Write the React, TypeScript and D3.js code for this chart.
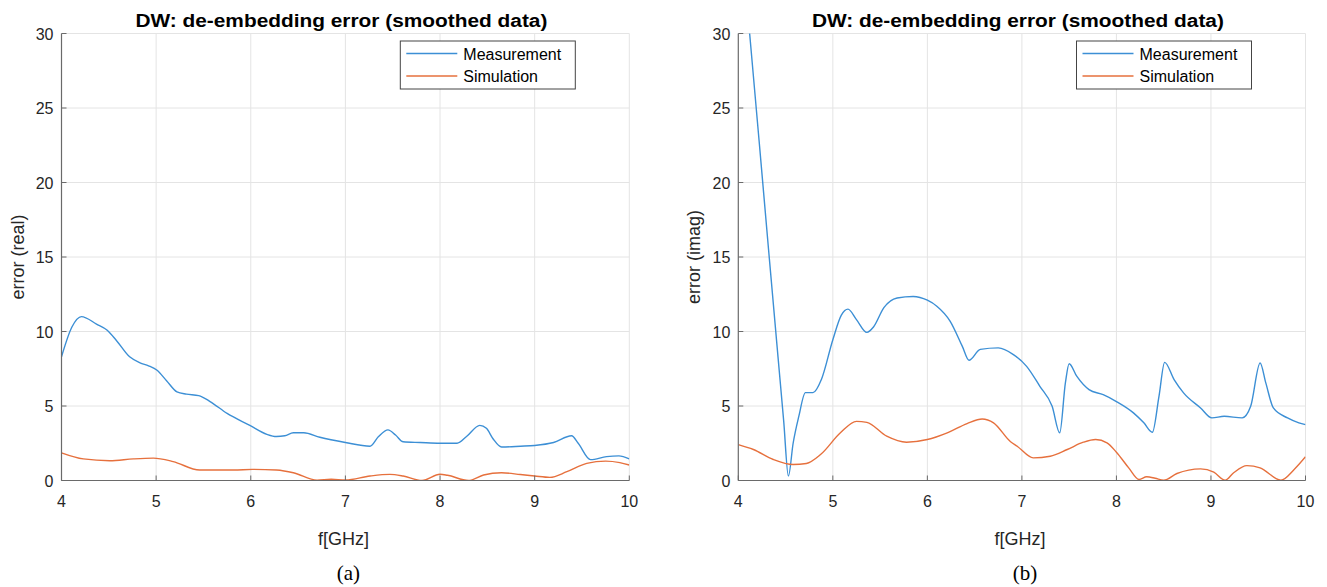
import React from "react";
import * as d3 from "d3";

// ---------- data ----------
const xTicks = [4, 5, 6, 7, 8, 9, 10];
const yTicks = [0, 5, 10, 15, 20, 25, 30];
const titleText = "DW: de-embedding error (smoothed data)";
const xLabel = "f[GHz]";
const yLabelA = "error (real)";
const yLabelB = "error (imag)";
const legendNames = ["Measurement", "Simulation"];
const captions = ["(a)", "(b)"];

// panel (a): real part
const measA: [number, number][] = [
  [4.0, 8.3], [4.11, 10.3], [4.21, 11.0], [4.37, 10.5], [4.48, 10.1], [4.58, 9.4],
  [4.72, 8.3], [4.83, 7.9], [4.92, 7.7], [5.01, 7.4], [5.11, 6.7], [5.22, 5.95],
  [5.32, 5.8], [5.45, 5.7], [5.57, 5.3], [5.75, 4.5], [5.99, 3.7], [6.17, 3.1],
  [6.27, 2.95], [6.36, 3.0], [6.45, 3.2], [6.56, 3.2], [6.73, 2.9], [7.0, 2.55],
  [7.26, 2.3], [7.35, 2.95], [7.45, 3.4], [7.53, 3.05], [7.61, 2.6], [7.79, 2.55],
  [8.0, 2.5], [8.18, 2.5], [8.28, 2.95], [8.42, 3.7], [8.49, 3.5], [8.56, 2.8],
  [8.65, 2.25], [8.85, 2.3], [9.0, 2.35], [9.2, 2.55], [9.39, 3.0], [9.46, 2.5],
  [9.59, 1.4], [9.76, 1.6], [9.89, 1.65], [10.0, 1.45],
];
const simA: [number, number][] = [
  [4.0, 1.86], [4.23, 1.45], [4.51, 1.33], [4.76, 1.45], [4.97, 1.5], [5.18, 1.27],
  [5.46, 0.7], [5.82, 0.7], [6.02, 0.75], [6.27, 0.7], [6.45, 0.52], [6.7, 0.02],
  [6.85, 0.08], [7.0, 0.03], [7.26, 0.3], [7.47, 0.41], [7.61, 0.3], [7.81, 0.0],
  [8.0, 0.42], [8.08, 0.35], [8.3, 0.0], [8.46, 0.37], [8.65, 0.52], [8.85, 0.4],
  [9.0, 0.3], [9.16, 0.21], [9.34, 0.59], [9.55, 1.15], [9.75, 1.3], [9.9, 1.2],
  [10.0, 1.04],
];

// panel (b): imaginary part
const measB: [number, number][] = [
  [4.0, 39], [4.12, 30], [4.22, 22.8], [4.32, 15.5], [4.42, 8.3], [4.48, 4.0],
  [4.53, 0.3], [4.58, 2.5], [4.64, 4.3], [4.71, 5.9], [4.79, 5.9],
  [4.88, 6.8], [5.0, 9.45], [5.09, 11.1], [5.16, 11.5], [5.25, 10.8], [5.36, 9.94],
  [5.43, 10.3], [5.54, 11.6], [5.68, 12.25], [5.85, 12.35], [6.0, 12.1], [6.1, 11.7],
  [6.24, 10.7], [6.37, 9.0], [6.44, 8.07], [6.56, 8.8], [6.75, 8.9], [6.91, 8.45],
  [7.05, 7.66], [7.19, 6.32], [7.32, 4.98], [7.4, 3.2], [7.46, 6.55], [7.5, 7.84],
  [7.58, 7.0], [7.71, 6.1], [7.86, 5.76], [8.0, 5.3], [8.18, 4.54], [8.29, 3.87],
  [8.38, 3.24], [8.45, 5.65], [8.51, 7.93], [8.61, 6.77], [8.71, 5.88], [8.89, 4.87],
  [9.01, 4.2], [9.14, 4.31], [9.33, 4.2], [9.42, 4.98], [9.52, 7.89], [9.58, 6.55],
  [9.66, 4.87], [9.81, 4.2], [9.93, 3.87], [10.0, 3.75],
];
const simB: [number, number][] = [
  [4.0, 2.41], [4.16, 2.08], [4.37, 1.41], [4.58, 1.07], [4.72, 1.14], [4.87, 1.74],
  [5.08, 3.2], [5.25, 3.97], [5.36, 3.9], [5.57, 2.97], [5.78, 2.57], [6.0, 2.75],
  [6.21, 3.2], [6.42, 3.82], [6.58, 4.13], [6.7, 3.87], [6.88, 2.6], [6.95, 2.3],
  [7.12, 1.52], [7.3, 1.63], [7.48, 2.08], [7.65, 2.57], [7.78, 2.75], [7.9, 2.53],
  [8.0, 1.9], [8.13, 0.85], [8.24, 0.07], [8.32, 0.25], [8.41, 0.15], [8.5, 0.02],
  [8.64, 0.47], [8.89, 0.78], [9.03, 0.56], [9.15, 0.02], [9.24, 0.52], [9.38, 1.0],
  [9.52, 0.85], [9.74, 0.02], [9.88, 0.74], [10.0, 1.59],
];

// ---------- style ----------
const W = 1327;
const H = 587;
const BLUE = "#3c8fd5";
const ORANGE = "#e6703d";
const FONT = "'Liberation Sans', Arial, Helvetica, sans-serif";

type PanelProps = {
  id: string;
  left: number;
  right: number;
  top: number;
  bottom: number;
  meas: [number, number][];
  sim: [number, number][];
  yLabel: string;
  caption: string;
};

function Panel({ id, left, right, top, bottom, meas, sim, yLabel, caption }: PanelProps) {
  const x = d3.scaleLinear().domain([4, 10]).range([left, right]);
  const y = d3.scaleLinear().domain([0, 30]).range([bottom, top]);
  const line = d3
    .line<[number, number]>()
    .x((d) => x(d[0]))
    .y((d) => y(d[1]))
    .curve(d3.curveMonotoneX);
  const cx = (left + right) / 2;
  const cy = (top + bottom) / 2;
  const legW = 175;
  const legH = 48;
  const legX = right - 54 - legW;
  const legY = top + 7.5;
  return (
    <g>
      <defs>
        <clipPath id={`clip-${id}`}>
          <rect x={left} y={top} width={right - left} height={bottom - top} />
        </clipPath>
      </defs>
      {/* grid */}
      {xTicks.slice(1).map((t) => (
        <line key={`gx${t}`} x1={x(t)} x2={x(t)} y1={top} y2={bottom} stroke="#e4e4e4" strokeWidth={1} />
      ))}
      {yTicks.slice(1).map((t) => (
        <line key={`gy${t}`} x1={left} x2={right} y1={y(t)} y2={y(t)} stroke="#e4e4e4" strokeWidth={1} />
      ))}
      {/* data */}
      <g clipPath={`url(#clip-${id})`}>
        <path d={line(meas) || ""} fill="none" stroke={BLUE} strokeWidth={1.4} />
        <path d={line(sim) || ""} fill="none" stroke={ORANGE} strokeWidth={1.4} />
      </g>
      {/* axes */}
      <line x1={left} x2={right} y1={bottom} y2={bottom} stroke="#6a6a6a" strokeWidth={1.2} />
      <line x1={left} x2={left} y1={top} y2={bottom} stroke="#6a6a6a" strokeWidth={1.2} />
      {xTicks.map((t) => (
        <g key={`xt${t}`}>
          <line x1={x(t)} x2={x(t)} y1={bottom} y2={bottom - 5} stroke="#6a6a6a" strokeWidth={1} />
          <text x={x(t)} y={bottom + 26} textAnchor="middle" fontFamily={FONT} fontSize={16} fill="#262626">
            {t}
          </text>
        </g>
      ))}
      {yTicks.map((t) => (
        <g key={`yt${t}`}>
          <line x1={left} x2={left + 5} y1={y(t)} y2={y(t)} stroke="#6a6a6a" strokeWidth={1} />
          <text x={left - 8} y={y(t) + 6} textAnchor="end" fontFamily={FONT} fontSize={16} fill="#262626">
            {t}
          </text>
        </g>
      ))}
      {/* title */}
      <text
        x={cx - 4}
        y={top - 7}
        textAnchor="middle"
        fontFamily={FONT}
        fontWeight="bold"
        fontSize={18}
        fill="#000"
        textLength={412}
        lengthAdjust="spacingAndGlyphs"
      >
        {titleText}
      </text>
      {/* axis labels */}
      <text x={cx - 2} y={bottom + 64} textAnchor="middle" fontFamily={FONT} fontSize={18} fill="#262626">
        {xLabel}
      </text>
      <text
        transform={`translate(${left - 38},${cy}) rotate(-90)`}
        textAnchor="middle"
        fontFamily={FONT}
        fontSize={18}
        fill="#262626"
      >
        {yLabel}
      </text>
      {/* caption */}
      <text x={cx + 3} y={bottom + 99} textAnchor="middle" fontFamily="'Liberation Serif', 'Times New Roman', serif" fontSize={21} fill="#000">
        {caption}
      </text>
      {/* legend */}
      <rect x={legX} y={legY} width={legW} height={legH} fill="#fff" stroke="#444" strokeWidth={1} />
      {legendNames.map((name, i) => (
        <g key={name}>
          <line
            x1={legX + 6}
            x2={legX + 57}
            y1={legY + 12.5 + i * 22.5}
            y2={legY + 12.5 + i * 22.5}
            stroke={i === 0 ? BLUE : ORANGE}
            strokeWidth={1.4}
          />
          <text x={legX + 63} y={legY + 18.5 + i * 22.5} fontFamily={FONT} fontSize={16} fill="#000">
            {name}
          </text>
        </g>
      ))}
    </g>
  );
}

export default function App() {
  return (
    <svg
      width={W}
      height={H}
      viewBox={`0 0 ${W} ${H}`}
      style={{ position: "absolute", left: 0, top: 0, background: "#fff" }}
    >
      <rect x={0} y={0} width={W} height={H} fill="#fff" />
      <Panel id="a" left={61.5} right={629.3} top={33.5} bottom={480.5} meas={measA} sim={simA} yLabel={yLabelA} caption={captions[0]} />
      <Panel id="b" left={738.3} right={1305.5} top={33.5} bottom={480.5} meas={measB} sim={simB} yLabel={yLabelB} caption={captions[1]} />
    </svg>
  );
}
